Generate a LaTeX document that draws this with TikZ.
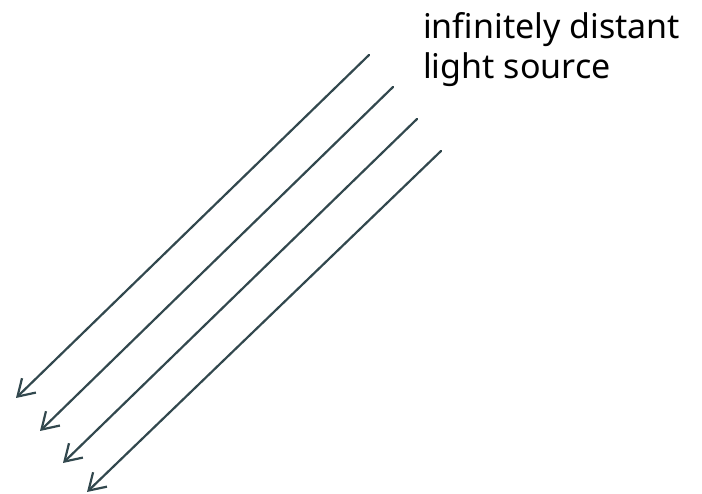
\documentclass[tikz,border=0pt]{standalone}
\usepackage{fontspec}
\setmainfont{Noto Sans}
\usetikzlibrary{arrows.meta}
\definecolor{raycol}{RGB}{50,72,78}
\tikzset{
  ray/.style={draw=raycol, line width=2.2pt, line cap=round,
    -{Straight Barb[length=16pt, width=20pt, line width=2.2pt]}},
  lbl/.style={font=\fontsize{34}{40}\selectfont, align=left, inner sep=0pt, text=black}
}
\begin{document}
\begin{tikzpicture}[x=1pt, y=-1pt]
\useasboundingbox (0,0) rectangle (702,494);
\coordinate (s1) at (369,55);  \coordinate (e1) at (16,398);
\coordinate (s2) at (393,87);  \coordinate (e2) at (40,431);
\coordinate (s3) at (417,119); \coordinate (e3) at (63,463);
\coordinate (s4) at (441,151); \coordinate (e4) at (87,492);
\foreach \i in {1,...,4} { \draw[ray] (s\i) -- (e\i); }
\node[lbl, anchor=north west] (label) at (423,12) {infinitely distant\\light source};
\end{tikzpicture}
\end{document}
